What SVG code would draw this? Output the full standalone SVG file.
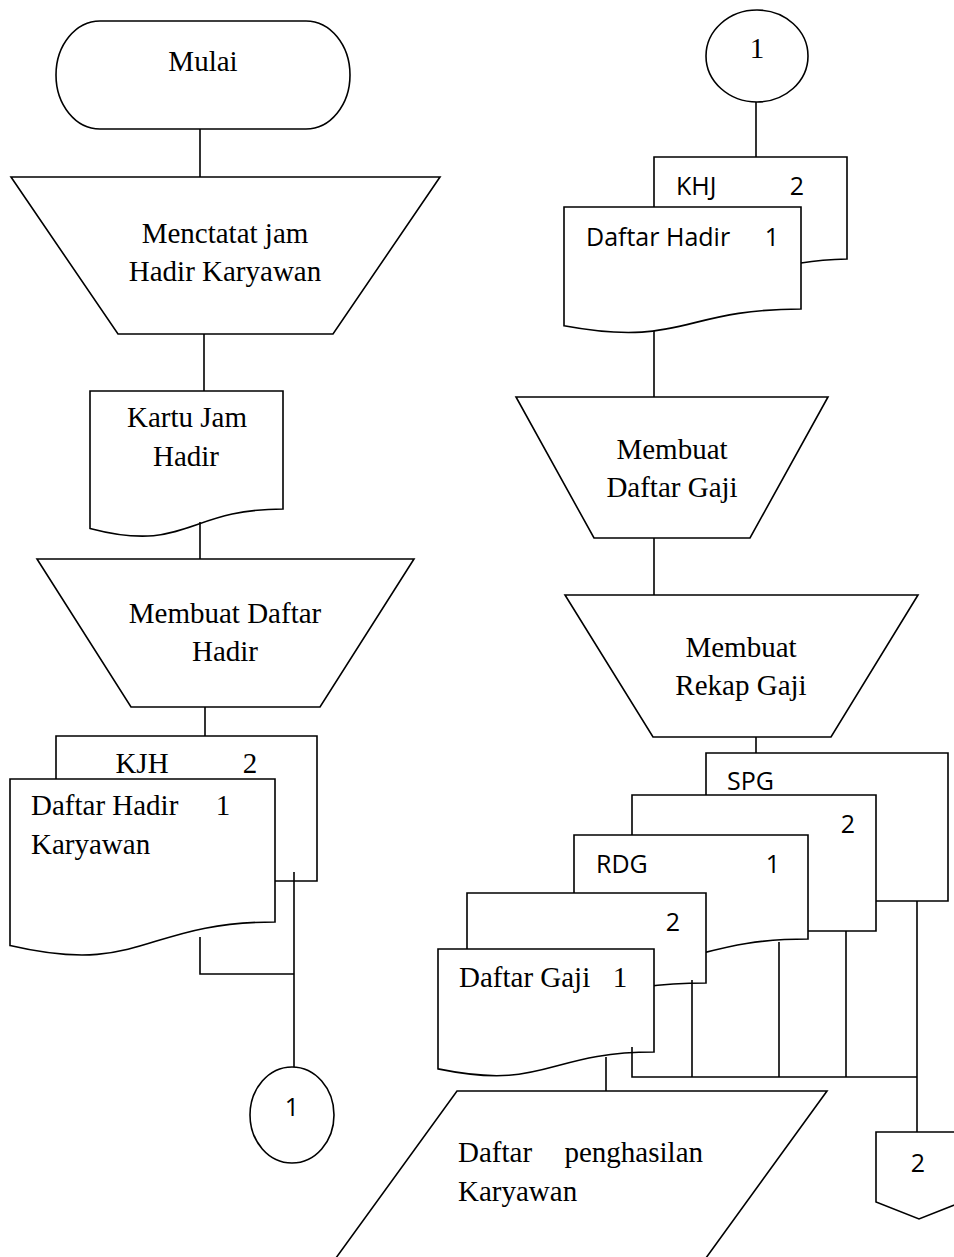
<svg xmlns="http://www.w3.org/2000/svg" width="954" height="1257" viewBox="0 0 954 1257">
<style>
.s{fill:#fff;stroke:#000;stroke-width:1.6}
.c{fill:none;stroke:#000;stroke-width:1.6}
.t{font-family:"Liberation Serif","Times New Roman",serif;font-size:29px;fill:#000}
.f{font-family:"Open Sans","Liberation Sans",sans-serif;font-size:25px;fill:#000}
.m{text-anchor:middle}
</style>
<rect width="954" height="1257" fill="#fff"/>
<g id="mulai"><rect class="s" x="56" y="21" width="294" height="108" rx="44" ry="54"/><text class="t m" x="203" y="71">Mulai</text></g>
<g id="menctatat"><polygon class="s" points="11,177 440,177 333,334 118,334"/><text class="t m" x="225" y="243">Menctatat jam</text><text class="t m" x="225" y="281">Hadir Karyawan</text></g>
<g id="kartu"><path class="s" d="M90,391 H283 V509 C186.5,509 186.5,553.8 90,528.4 Z"/><text class="t m" x="187" y="427">Kartu Jam</text><text class="t m" x="186" y="466">Hadir</text></g>
<g id="membuat-daftar-hadir"><polygon class="s" points="37,559 414,559 320,707 131,707"/><text class="t m" x="225" y="623">Membuat Daftar</text><text class="t m" x="225" y="661">Hadir</text></g>
<g id="kjh"><path class="s" d="M275,881 H317 V736 H56 V779"/><text class="t m" x="142" y="773">KJH</text><text class="t m" x="250" y="773">2</text></g>
<g id="daftar-hadir-karyawan"><path class="s" d="M10,779 H275 V922 C142.5,922 142.5,976.4 10,945.5 Z"/><text class="t" x="31" y="815">Daftar Hadir</text><text class="t m" x="223" y="815">1</text><text class="t" x="31" y="854">Karyawan</text></g>
<g id="conn1-left"><ellipse class="s" cx="292" cy="1115" rx="42" ry="48"/><text class="f m" x="292" y="1116">1</text></g>
<g id="conn1-right"><ellipse class="s" cx="757" cy="56" rx="51" ry="46"/><text class="t m" x="757" y="58">1</text></g>
<g id="khj"><path class="s" d="M801,263 Q822,259.5 847,259 V157 H654 V207"/><text class="f" x="676" y="195">KHJ</text><text class="f m" x="797" y="195">2</text></g>
<g id="daftar-hadir"><path class="s" d="M564,207 H801 V309 C682.5,309 682.5,347.8 564,325.8 Z"/><text class="f" x="586" y="246">Daftar Hadir</text><text class="f m" x="772" y="246">1</text></g>
<g id="membuat-daftar-gaji"><polygon class="s" points="516,397 828,397 750,538 594,538"/><text class="t m" x="672" y="459">Membuat</text><text class="t m" x="672" y="497">Daftar Gaji</text></g>
<g id="membuat-rekap-gaji"><polygon class="s" points="565,595 918,595 831,737 653,737"/><text class="t m" x="741" y="657">Membuat</text><text class="t m" x="741" y="695">Rekap Gaji</text></g>
<g id="spg"><path class="s" d="M876,901 H948 V753 H706 V795"/><text class="f" x="727" y="790">SPG</text></g>
<g id="rdg-2"><path class="s" d="M808,931 H876 V795 H632 V835"/><text class="f m" x="848" y="833">2</text></g>
<g id="rdg"><path class="s" d="M574,835 H808 V939 C691,939 691,978.6 574,956.1 Z"/><text class="f" x="596" y="873">RDG</text><text class="f m" x="773" y="873">1</text></g>
<g id="daftar-gaji-2"><path class="s" d="M467,893 H706 V983 C586.5,983 586.5,1017.2 467,997.8 Z"/><text class="f m" x="673" y="931">2</text></g>
<g id="daftar-gaji"><path class="s" d="M438,949 H654 V1052 C546,1052 546,1091.1 438,1068.9 Z"/><text class="t" x="459" y="987">Daftar Gaji</text><text class="t m" x="620" y="987">1</text></g>
<g id="daftar-penghasilan"><polygon class="s" points="457,1091 827,1091 690,1280 320,1280"/><text class="t" x="458" y="1162">Daftar</text><text class="t" x="703" y="1162" text-anchor="end">penghasilan</text><text class="t" x="458" y="1201">Karyawan</text></g>
<g id="offpage-2"><polygon class="s" points="876,1132 962,1132 962,1202 919,1219 876,1202"/><text class="f m" x="918" y="1172">2</text></g>
<g id="connectors">
<path class="c" d="M200,129 V177"/>
<path class="c" d="M204,334 V391"/>
<path class="c" d="M200,522 V559"/>
<path class="c" d="M205,707 V736"/>
<path class="c" d="M200,937 V974 H294"/>
<path class="c" d="M294,872 V1067"/>
<path class="c" d="M756,102 V157"/>
<path class="c" d="M654,331 V397"/>
<path class="c" d="M654,538 V595"/>
<path class="c" d="M756,737 V753"/>
<path class="c" d="M632,1047 V1077 H917"/>
<path class="c" d="M692,980 V1077"/>
<path class="c" d="M779,942 V1077"/>
<path class="c" d="M846,931 V1077"/>
<path class="c" d="M917,901 V1132"/>
<path class="c" d="M606,1057 V1091"/>
</g>
</svg>
